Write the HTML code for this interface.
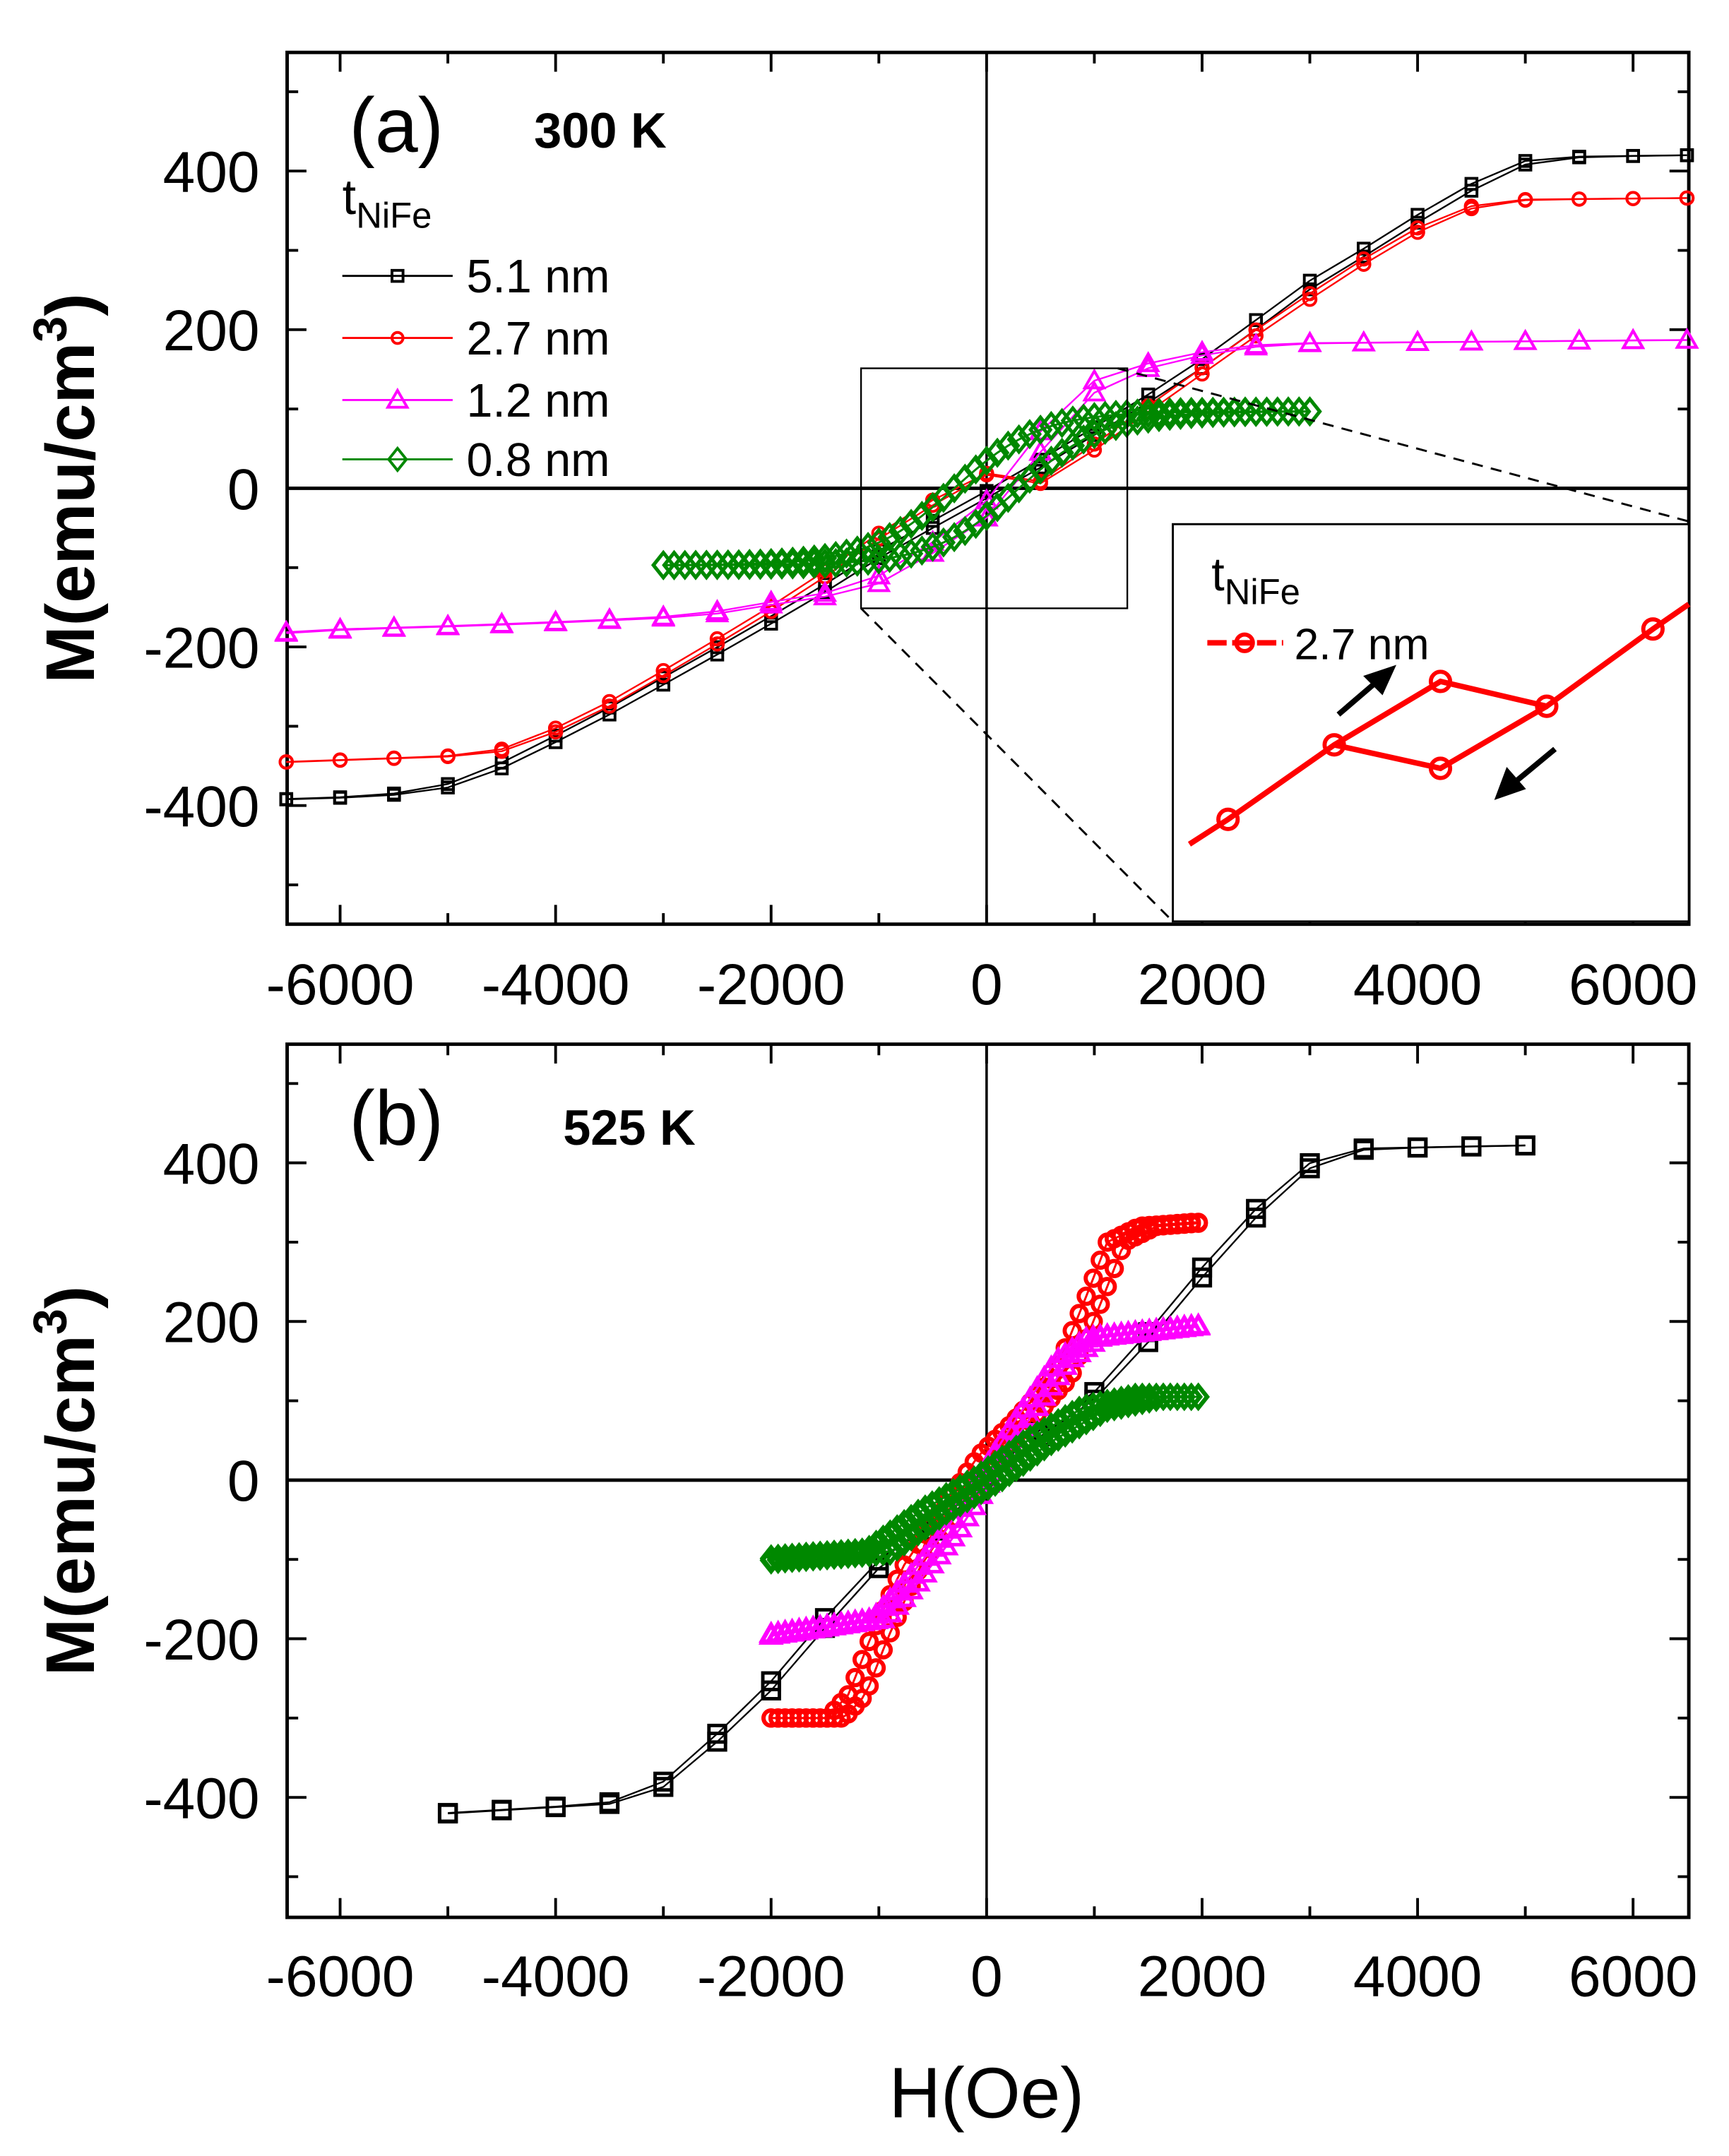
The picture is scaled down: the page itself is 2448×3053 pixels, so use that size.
<!DOCTYPE html>
<html><head><meta charset="utf-8"><style>html,body{margin:0;padding:0;background:#fff}svg{display:block}</style></head>
<body>
<svg id="s" xmlns="http://www.w3.org/2000/svg" width="2448" height="3053" viewBox="0 0 1253 1563" font-family="Liberation Sans, sans-serif"></svg>
<script>
const S=document.getElementById('s');let out='';
const X=h=>715+h*0.0781;
function mk(y0){return m=>y0-m*0.575;}
const Ya=mk(354),Yb=mk(1073);
function add(s){out+=s;}
function frame(top,bot,Y,lblY){
 add(`<rect x="208" y="${top}" width="1016" height="${bot-top}" fill="none" stroke="#000" stroke-width="2.5"/>`);
 for(let h=-6000;h<=6000;h+=1000){const x=X(h),L=h%2000==0?14:8;
  add(`<line x1="${x}" y1="${bot}" x2="${x}" y2="${bot-L}" stroke="#000" stroke-width="2"/><line x1="${x}" y1="${top}" x2="${x}" y2="${top+L}" stroke="#000" stroke-width="2"/>`);
  if(h%2000==0)add(`<text x="${x}" y="${lblY}" font-size="42" text-anchor="middle">${h}</text>`);}
 for(let m=-500;m<=500;m+=100){const y=Y(m),L=m%200==0?14:8;
  add(`<line x1="208" y1="${y}" x2="${208+L}" y2="${y}" stroke="#000" stroke-width="2"/><line x1="1224" y1="${y}" x2="${1224-L}" y2="${y}" stroke="#000" stroke-width="2"/>`);
  if(m%200==0&&m>=-400&&m<=400)add(`<text x="188" y="${y+15}" font-size="42" text-anchor="end">${m}</text>`);}
 add(`<line x1="208" y1="${Y(0)}" x2="1224" y2="${Y(0)}" stroke="#000" stroke-width="2.5"/><line x1="${X(0)}" y1="${top}" x2="${X(0)}" y2="${bot}" stroke="#000" stroke-width="1.8"/>`);
 const cy=(top+bot)/2;
 add(`<text transform="translate(68,${cy}) rotate(-90)" font-size="50" font-weight="bold" text-anchor="middle">M(emu/cm<tspan dy="-20" font-size="34">3</tspan><tspan dy="20">)</tspan></text>`);
}
function marker(t,x,y,c,sz,sw){
 if(t=='sq')return `<rect x="${x-sz}" y="${y-sz}" width="${2*sz}" height="${2*sz}" fill="none" stroke="${c}" stroke-width="${sw}"/>`;
 if(t=='ci')return `<circle cx="${x}" cy="${y}" r="${sz}" fill="none" stroke="${c}" stroke-width="${sw}"/>`;
 if(t=='tr')return `<polygon points="${x},${y-sz} ${x+sz},${y+sz*0.75} ${x-sz},${y+sz*0.75}" fill="none" stroke="${c}" stroke-width="${sw}"/>`;
 return `<polygon points="${x},${y-sz} ${x+sz*0.8},${y} ${x},${y+sz} ${x-sz*0.8},${y}" fill="none" stroke="${c}" stroke-width="${sw}"/>`;
}
function interp(pts,h){for(let i=0;i<pts.length-1;i++){if(h<=pts[i+1][0]){const [a,b]=pts[i],[c,d]=pts[i+1];return b+(d-b)*(h-a)/(c-a);}}return pts[pts.length-1][1];}
function series(Y,pts,off,step,from,to,t,c,sz,sw,lw){
 let up=[],dn=[];
 for(let h=from;h<=to+1;h+=step){up.push([X(h),Y(interp(pts,h-off))]);dn.push([X(h),Y(interp(pts,h+off))]);}
 for(const br of [up,dn]){add(`<polyline points="${br.map(p=>p.join(',')).join(' ')}" fill="none" stroke="${c}" stroke-width="${lw}"/>`);
  br.forEach(p=>add(marker(t,p[0],p[1],c,sz,sw)));}
}
// Panel a
frame(38,670,Ya,728);
const blkA=[[-6500,-392],[-6000,-390],[-5500,-386],[-5000,-376],[-4500,-350],[-4000,-316],[-3500,-281],[-3000,-243],[-2500,-205],[-2000,-166],[-1500,-126],[-1000,-83],[0,-8],[400,23],[1500,113],[2000,157],[2500,206],[3000,257],[3500,297],[4000,340],[4500,380],[5000,412],[5500,418],[6500,420]];
series(Ya,blkA,60,500,-6500,6500,'sq','#000',4,2,1.2);
const redA=[[-6500,-345],[-5000,-338],[-4500,-331],[-4000,-305],[-3500,-272],[-3000,-233],[-2500,-193],[-2000,-152],[-1500,-108],[-1000,-60],[-500,-18],[0,20],[500,5],[1000,52],[1500,100],[2000,148],[2500,196],[3000,242],[3500,286],[4000,326],[4500,355],[5000,364],[6500,366]];
series(Ya,redA,40,500,-6500,6500,'ci','#f00',4.5,2,1.2);
const magA=[[-6500,-182],[-6000,-178],[-5000,-174],[-4000,-169],[-3000,-163],[-2500,-157],[-2000,-145],[-1500,-135],[-1000,-117],[-500,-75],[0,-30],[500,60],[1000,132],[1500,155],[2000,170],[2500,180],[3000,183],[6500,187]];
series(Ya,magA,80,500,-6500,6500,'tr','#f0f',7,2,1.2);
const grnA=[];for(let h=-4000;h<=4000;h+=100)grnA.push([h,97*Math.tanh(h/800)]);
series(Ya,grnA,300,100,-3000,3000,'di','#080',9,2.5,1.5);
// inset
add(`<rect x="624" y="267" width="193" height="174" fill="none" stroke="#000" stroke-width="1.2"/>`);
add(`<line x1="810" y1="267" x2="1224" y2="378" stroke="#000" stroke-width="1.5" stroke-dasharray="8,6"/><line x1="624" y1="441" x2="850" y2="668" stroke="#000" stroke-width="1.5" stroke-dasharray="8,6"/>`);
add(`<rect x="850" y="380" width="374" height="288" fill="#fff" stroke="#000" stroke-width="1.5"/>`);
add(`<text x="878" y="428" font-size="34">t<tspan dy="10" font-size="26">NiFe</tspan></text>`);
add(`<line x1="875" y1="466" x2="930" y2="466" stroke="#f00" stroke-width="4" stroke-dasharray="14,4"/>`+marker('ci',902,466,'#f00',6,3)+`<text x="938" y="478" font-size="32">2.7 nm</text>`);
add(`<polyline points="862,612 890,594 967,540 1044,494 1121,512 1198,456 1224,438" fill="none" stroke="#f00" stroke-width="4"/><polyline points="967,540 1044,557 1121,512" fill="none" stroke="#f00" stroke-width="4"/>`);
[[890,594],[967,540],[1044,494],[1121,512],[1198,456],[1044,557]].forEach(p=>add(marker('ci',p[0],p[1],'#f00',7,3)));
add(`<line x1="970" y1="518" x2="998" y2="494" stroke="#000" stroke-width="4"/><polygon points="1012,482 988,490 1002,504" fill="#000"/>`);
add(`<line x1="1127" y1="543" x2="1098" y2="567" stroke="#000" stroke-width="4"/><polygon points="1083,580 1092,556 1106,572" fill="#000"/>`);
add(`<text x="253" y="110" font-size="56">(a)</text><text x="387" y="107" font-size="36" font-weight="bold">300 K</text>`);
add(`<text x="248" y="155" font-size="36">t<tspan dy="10" font-size="26">NiFe</tspan></text>`);
[['sq','#000','5.1 nm',200],['ci','#f00','2.7 nm',245],['tr','#f0f','1.2 nm',290],['di','#080','0.8 nm',333]].forEach(([t,c,l,y])=>{
 add(`<line x1="248" y1="${y}" x2="328" y2="${y}" stroke="${c}" stroke-width="1.5"/>`+marker(t,288,y,c,t=='di'?8:(t=='tr'?7:4),2)+`<text x="338" y="${y+12}" font-size="34">${l}</text>`);});
// Panel b
frame(757,1390,Yb,1447);
const blkB=[[-5000,-420],[-4500,-416],[-4000,-412],[-3500,-408],[-3000,-385],[-2500,-325],[-2000,-260],[-1500,-180],[-1000,-105],[-500,-60],[0,0],[500,60],[1000,105],[1500,180],[2000,262],[2500,337],[3000,398],[3500,418],[5000,422]];
series(Yb,blkB,40,500,-5000,5000,'sq','#000',6,2.5,1.2);
const redB=[[-2000,-300],[-1400,-300],[-1200,-270],[-1000,-200],[-700,-110],[-300,-30],[0,30],[300,70],[700,130],[1000,230],[1200,300],[1500,320],[2000,325]];
series(Yb,redB,80,65,-2000,2000,'ci','#f00',5.5,3,1.5);
const magB=[[-2000,-195],[-1000,-175],[-700,-130],[-300,-60],[0,5],[300,70],[700,150],[1000,180],[2000,195]];
series(Yb,magB,60,65,-2000,2000,'tr','#f0f',7,2.5,1.5);
const grnB=[[-2000,-100],[-1000,-90],[-500,-40],[0,0],[500,50],[1000,90],[1500,105],[2000,105]];
series(Yb,grnB,120,65,-2000,2000,'di','#080',8,3,1.5);
add(`<text x="253" y="830" font-size="56">(b)</text><text x="408" y="830" font-size="36" font-weight="bold">525 K</text>`);
add(`<text x="715" y="1535" font-size="52" text-anchor="middle">H(Oe)</text>`);
S.innerHTML=out;
</script>
</body></html>
